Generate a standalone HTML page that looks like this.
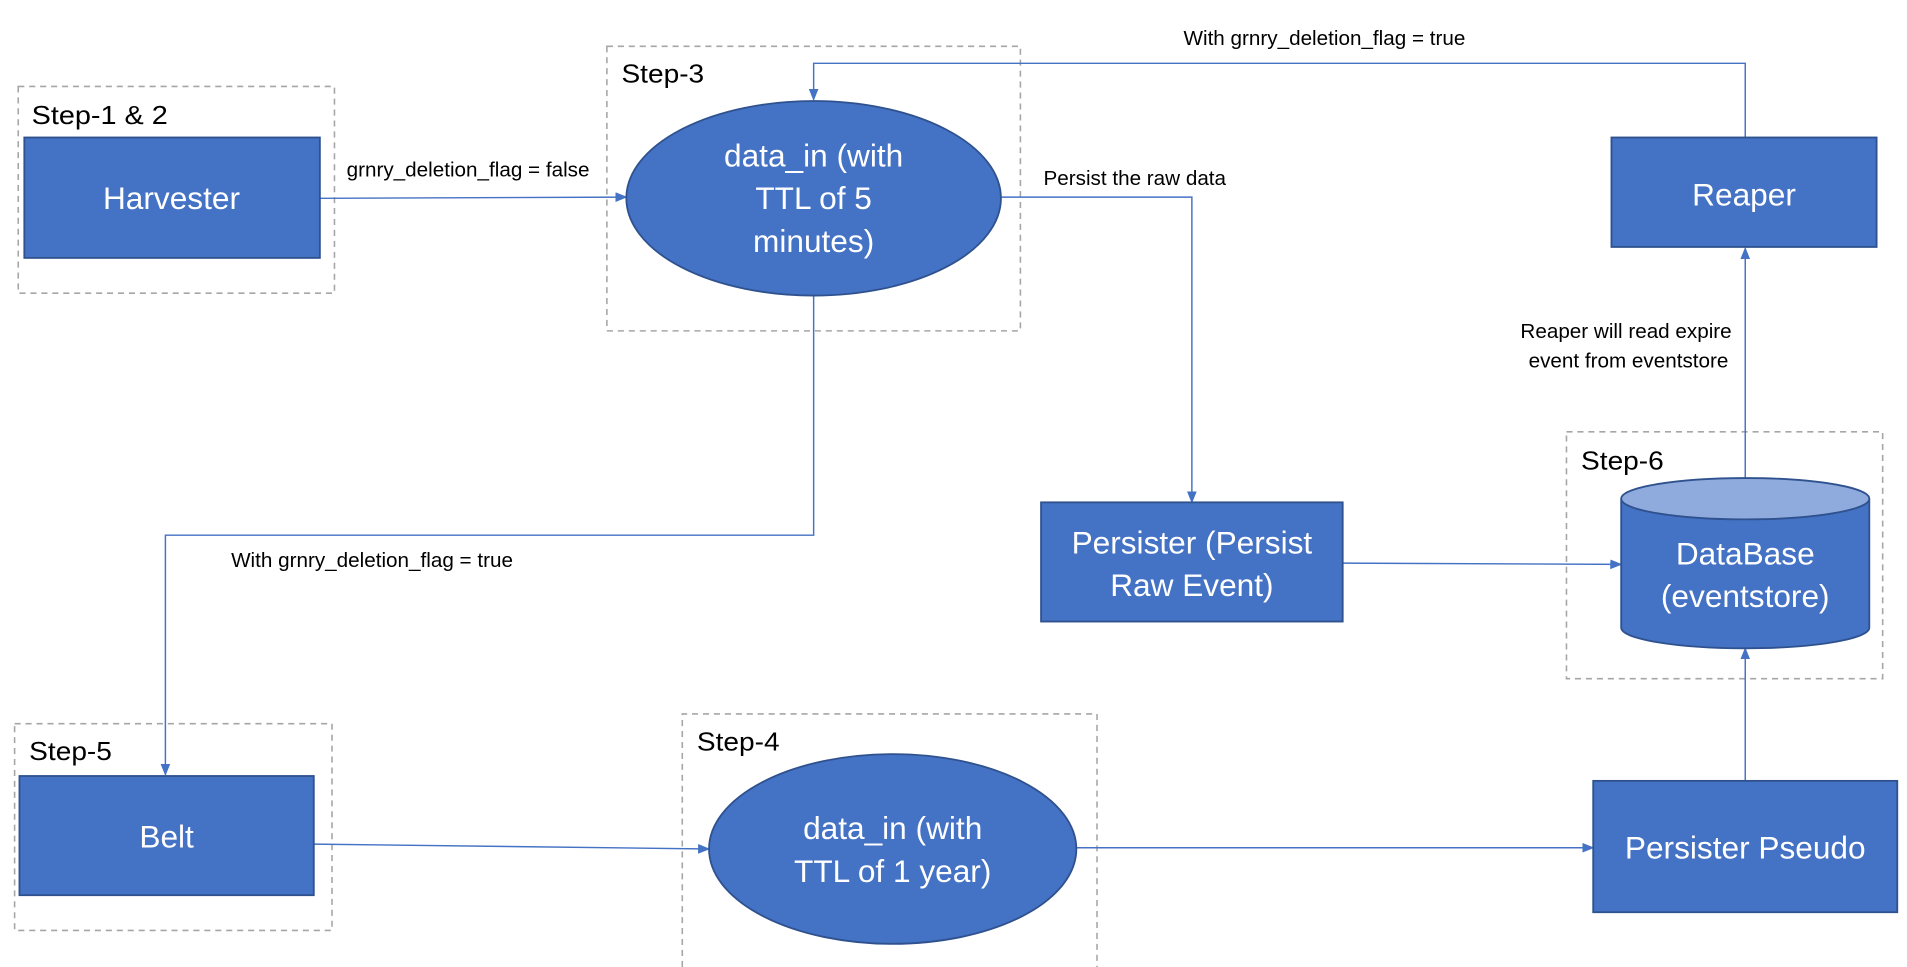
<!DOCTYPE html>
<html><head><meta charset="utf-8"><style>
html,body{margin:0;padding:0;background:#fff;}
svg{display:block;}
text{font-family:"Liberation Sans",sans-serif;}
</style></head><body>
<svg width="1907" height="967" viewBox="0 0 1568 795" xmlns="http://www.w3.org/2000/svg">
<defs><marker id="a" markerWidth="10" markerHeight="8" refX="9" refY="4" orient="auto" markerUnits="userSpaceOnUse"><path d="M0,0 L10,4 L0,8 z" fill="#4472C4"/></marker></defs>
<g fill="none" stroke="#A6A6A6" stroke-width="1.3" stroke-dasharray="5,4">
<rect x="15" y="71" width="260" height="170"/>
<rect x="499" y="38" width="340" height="234"/>
<rect x="1288" y="355" width="260" height="203"/>
<rect x="12" y="595" width="261" height="170"/>
<path d="M561,795 V587 H902 V795"/>
</g>
<g font-size="21.5" fill="#000">
<text x="26" y="102" textLength="112" lengthAdjust="spacingAndGlyphs">Step-1 &amp; 2</text>
<text x="511" y="68" textLength="68" lengthAdjust="spacingAndGlyphs">Step-3</text>
<text x="1300" y="386" textLength="68" lengthAdjust="spacingAndGlyphs">Step-6</text>
<text x="24" y="625" textLength="68" lengthAdjust="spacingAndGlyphs">Step-5</text>
<text x="573" y="617" textLength="68" lengthAdjust="spacingAndGlyphs">Step-4</text>
</g>
<g fill="none" stroke="#4472C4" stroke-width="1.2" marker-end="url(#a)">
<path d="M263,163 L515,162"/>
<path d="M823,162 H980 V413"/>
<path d="M1104,463 L1333,464"/>
<path d="M1435,393 V204"/>
<path d="M1435,113 V52 H669 V82"/>
<path d="M669,243 V440 H136 V637"/>
<path d="M258,694 L583,698"/>
<path d="M885,697 H1310"/>
<path d="M1435,642 V533"/>
</g>
<g fill="#4472C4" stroke="#2F528F" stroke-width="1.5">
<rect x="20" y="113" width="243" height="99"/>
<ellipse cx="669" cy="163" rx="154" ry="80"/>
<rect x="856" y="413" width="248" height="98"/>
<rect x="1325" y="113" width="218" height="90"/>
<rect x="16" y="638" width="242" height="98"/>
<ellipse cx="734" cy="698" rx="151" ry="78"/>
<rect x="1310" y="642" width="250" height="108"/>
<path d="M1333,410 V516 A102,17 0 0 0 1537,516 V410"/>
<ellipse cx="1435" cy="410" rx="102" ry="17" fill="#8FAADC"/>
</g>
<g font-size="26" fill="#fff" text-anchor="middle">
<text x="141" y="172">Harvester</text>
<text x="669" y="137">data_in (with</text>
<text x="669" y="172">TTL of 5</text>
<text x="669" y="207">minutes)</text>
<text x="980" y="455">Persister (Persist</text>
<text x="980" y="490">Raw Event)</text>
<text x="1434" y="169">Reaper</text>
<text x="1435" y="464">DataBase</text>
<text x="1435" y="499">(eventstore)</text>
<text x="137" y="697">Belt</text>
<text x="734" y="690">data_in (with</text>
<text x="734" y="725">TTL of 1 year)</text>
<text x="1435" y="706">Persister Pseudo</text>
</g>
<g font-size="17" fill="#000">
<text x="285" y="145">grnry_deletion_flag = false</text>
<text x="858" y="152">Persist the raw data</text>
<text x="1089" y="37" text-anchor="middle">With grnry_deletion_flag = true</text>
<text x="1337" y="278" text-anchor="middle">Reaper will read expire</text>
<text x="1339" y="302" text-anchor="middle">event from eventstore</text>
<text x="190" y="466">With grnry_deletion_flag = true</text>
</g>
</svg>
</body></html>
